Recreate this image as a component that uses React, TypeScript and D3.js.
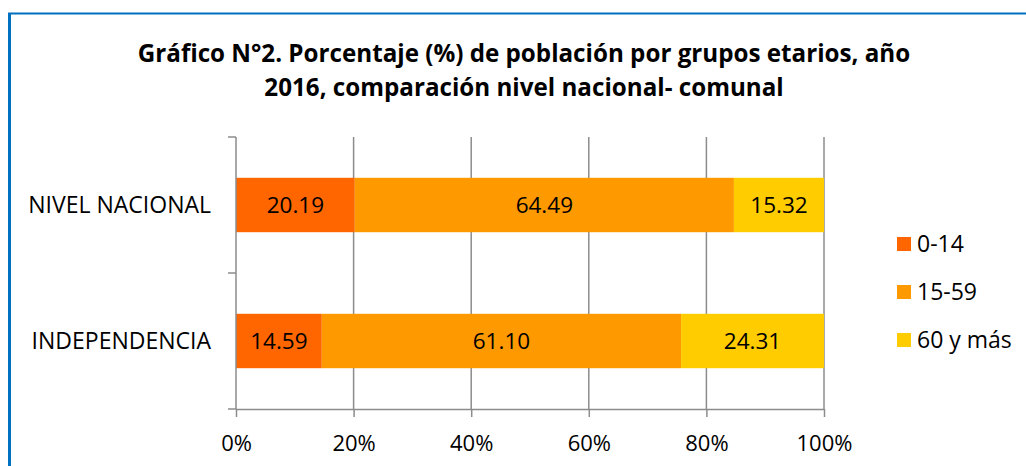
import React, { useRef, useEffect } from 'react';
import * as d3 from 'd3';

const categories = ["NIVEL NACIONAL", "INDEPENDENCIA"];
const seriesNames = ["0-14", "15-59", "60 y más"];
const values0to14 = [20.19, 14.59];
const values15to59 = [64.49, 61.10];
const values60plus = [15.32, 24.31];
const xTicks = [0, 20, 40, 60, 80, 100];
const titleLines = [
  "Gráfico N°2. Porcentaje (%) de población por grupos etarios, año",
  "2016, comparación nivel nacional- comunal",
];

const colors = ["#FF6600", "#FF9900", "#FFCC00"];
const FONT = "'Open Sans', 'Liberation Sans', sans-serif";

const App: React.FC = () => {
  const svgRef = useRef<SVGSVGElement>(null);

  useEffect(() => {
    if (!svgRef.current) return;
    const width = 1026;
    const height = 466;
    const margin = { top: 137, right: 202, bottom: 57, left: 236 };

    const svg = d3.select(svgRef.current);
    svg.selectAll("*").remove();

    svg.append("rect")
      .attr("width", width)
      .attr("height", height)
      .attr("fill", "#fff");

    // blue frame (top + left visible)
    svg.append("line")
      .attr("x1", 8).attr("x2", width)
      .attr("y1", 13.5).attr("y2", 13.5)
      .attr("stroke", "#0070C0").attr("stroke-width", 2);
    svg.append("line")
      .attr("x1", 9.5).attr("x2", 9.5)
      .attr("y1", 13).attr("y2", height)
      .attr("stroke", "#0070C0").attr("stroke-width", 3);

    // title
    svg.append("g")
      .selectAll("text")
      .data(titleLines)
      .enter()
      .append("text")
      .attr("x", 524)
      .attr("y", (d, i) => 62 + i * 34)
      .attr("text-anchor", "middle")
      .attr("font-family", FONT)
      .attr("font-weight", "bold")
      .attr("font-size", 24.2)
      .attr("fill", "#000")
      .text(d => d);

    const x = d3.scaleLinear()
      .domain([0, 100])
      .range([margin.left, width - margin.right]);

    const y = d3.scaleBand()
      .domain(categories)
      .range([margin.top, height - margin.bottom])
      .paddingInner(0.6)
      .paddingOuter(0.3);

    const color = d3.scaleOrdinal<string>()
      .domain(seriesNames)
      .range(colors);

    const rows = categories.map((c, i) => ({
      category: c,
      "0-14": values0to14[i],
      "15-59": values15to59[i],
      "60 y más": values60plus[i],
    }));
    const stacked = d3.stack<any>().keys(seriesNames)(rows);

    const grey = "#8c8c8c";

    // vertical gridlines
    svg.append("g")
      .selectAll("line")
      .data(xTicks.slice(1))
      .enter()
      .append("line")
      .attr("x1", d => x(d)).attr("x2", d => x(d))
      .attr("y1", margin.top).attr("y2", height - margin.bottom)
      .attr("stroke", grey)
      .attr("stroke-width", 1.5);

    // bars
    const layers = svg.append("g")
      .selectAll("g")
      .data(stacked)
      .enter()
      .append("g")
      .attr("fill", d => color(d.key));

    layers.selectAll("rect")
      .data(d => d.map(v => ({ v, key: d.key })))
      .enter()
      .append("rect")
      .attr("x", d => x(d.v[0]))
      .attr("y", d => y(d.v.data.category) || 0)
      .attr("width", d => x(d.v[1]) - x(d.v[0]))
      .attr("height", y.bandwidth());

    // value labels
    layers.selectAll("text")
      .data(d => d.map(v => ({ v, key: d.key })))
      .enter()
      .append("text")
      .attr("x", d => (x(d.v[0]) + x(d.v[1])) / 2)
      .attr("y", d => (y(d.v.data.category) || 0) + y.bandwidth() / 2)
      .attr("dy", "0.36em")
      .attr("text-anchor", "middle")
      .attr("font-family", FONT)
      .attr("font-size", 22.5)
      .attr("fill", "#000")
      .text(d => (d.v[1] - d.v[0]).toFixed(2));

    // x axis
    const xAxis = svg.append("g")
      .attr("transform", `translate(0,${height - margin.bottom})`)
      .call(d3.axisBottom(x).tickValues(xTicks).tickFormat(d => `${d}%`).tickSize(8).tickSizeOuter(0));
    xAxis.select(".domain").attr("stroke", grey).attr("stroke-width", 1.5);
    xAxis.selectAll(".tick line").attr("stroke", grey).attr("stroke-width", 1.5);
    xAxis.selectAll(".tick text")
      .attr("fill", "#000")
      .attr("font-family", FONT)
      .attr("font-size", 22)
      .attr("dy", "1.4em");

    // y axis (category boundaries as ticks)
    const step = y.step();
    const boundaries = [
      ...categories.map(c => (y(c) || 0) - (step * y.paddingInner()) / 2),
      height - margin.bottom,
    ];
    const yAxis = svg.append("g");
    yAxis.append("line")
      .attr("x1", margin.left).attr("x2", margin.left)
      .attr("y1", margin.top).attr("y2", height - margin.bottom)
      .attr("stroke", grey).attr("stroke-width", 1.5);
    yAxis.selectAll(".tk")
      .data(boundaries)
      .enter()
      .append("line")
      .attr("x1", margin.left - 8).attr("x2", margin.left)
      .attr("y1", d => d).attr("y2", d => d)
      .attr("stroke", grey).attr("stroke-width", 1.5);
    yAxis.selectAll("text")
      .data(categories)
      .enter()
      .append("text")
      .attr("x", margin.left - 25)
      .attr("y", d => (y(d) || 0) + y.bandwidth() / 2)
      .attr("dy", "0.36em")
      .attr("text-anchor", "end")
      .attr("font-family", FONT)
      .attr("font-size", 23)
      .attr("fill", "#000")
      .text(d => d);

    // legend
    const legend = svg.append("g")
      .selectAll("g")
      .data(seriesNames)
      .enter()
      .append("g")
      .attr("transform", (d, i) => `translate(897,${237 + i * 48})`);
    legend.append("rect")
      .attr("width", 14).attr("height", 14)
      .attr("fill", d => color(d));
    legend.append("text")
      .attr("x", 20)
      .attr("y", 7)
      .attr("dy", "0.36em")
      .attr("font-family", FONT)
      .attr("font-size", 23)
      .attr("fill", "#000")
      .text(d => d);
  }, []);

  return (
    <svg
      ref={svgRef}
      width={1026}
      height={466}
      style={{ position: 'absolute', left: 0, top: 0 }}
    />
  );
};

export default App;
